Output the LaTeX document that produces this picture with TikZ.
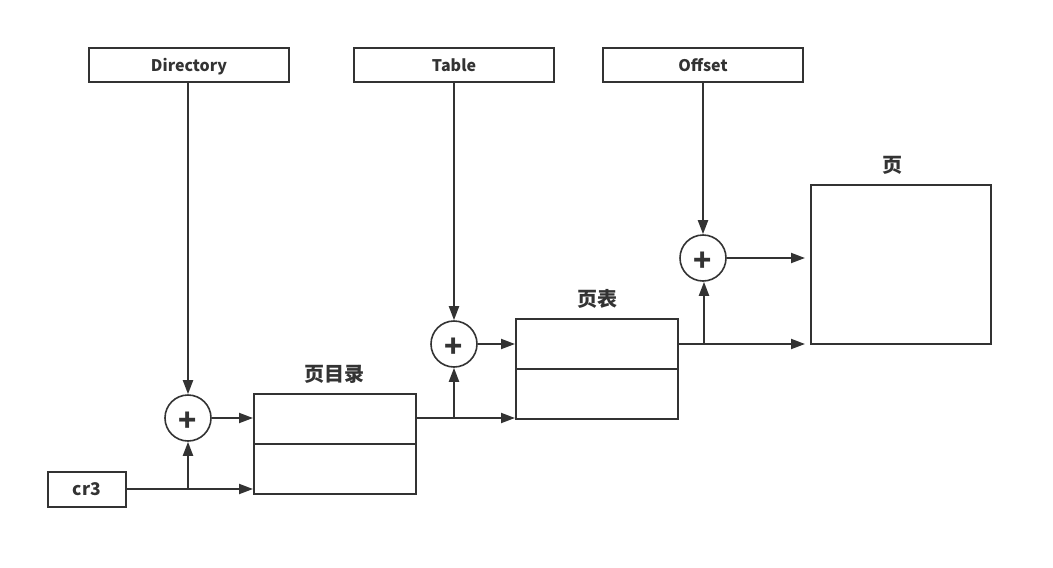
\documentclass[tikz,border=0pt]{standalone}
\usepackage{fontspec}
\setmainfont{Noto Sans CJK SC}
\usetikzlibrary{arrows.meta}
\definecolor{ink}{HTML}{333333}
\begin{document}
\begin{tikzpicture}[x=1pt,y=-1pt,
  line width=2pt, draw=ink, text=ink,
  field/.style={draw=ink, minimum width=200pt, minimum height=34pt, inner sep=0pt, text depth=0pt, font=\bfseries\fontsize{16}{18}\selectfont},
  adder/.style={draw=ink, circle, minimum size=46pt, inner sep=0pt, line width=1.6pt, text depth=0pt, font=\bfseries\fontsize{30}{30}\selectfont},
  tablebox/.style={draw=ink, minimum width=162pt, minimum height=100pt, inner sep=0pt},
  caption/.style={font=\bfseries\fontsize{20}{22}\selectfont, inner sep=0pt},
  conn/.style={draw=ink, -{Triangle[length=14pt,width=10pt]}},
  wire/.style={draw=ink}
]
\useasboundingbox (0,0) rectangle (1053,568);
% address fields
\node[field] (dir) at (189,65) {Directory};
\node[field] (tab) at (454,65) {Table};
\node[field] (off) at (703,65) {Offset};
% cr3
\node[draw=ink, minimum width=78pt, minimum height=35pt, inner sep=0pt, text depth=0pt, font=\bfseries\fontsize{17.5}{19}\selectfont] (cr) at (87,489) {cr3};
% adders
\node[adder] (a1) at (188,418) {\raisebox{-8pt}{+}};
\node[adder] (a2) at (454,344) {\raisebox{-8pt}{+}};
\node[adder] (a3) at (703,258) {\raisebox{-8pt}{+}};
% tables
\node[tablebox] (pd) at (335,444) {};
\draw[wire] (pd.west) -- (pd.east);
\node[caption] (pdl) at (334,374) {页目录};
\node[tablebox] (pt) at (597,369) {};
\draw[wire] (pt.west) -- (pt.east);
\node[caption] (ptl) at (597,299) {页表};
\node[draw=ink, minimum width=180pt, minimum height=159pt, inner sep=0pt] (pg) at (901,264.5) {};
\node[caption] (pgl) at (892,165) {页};
% junction coordinates
\coordinate (j1) at (188,489);
\coordinate (j2) at (454,418);
\coordinate (j3) at (704,344);
% connectors
\draw[conn] (dir.south -| a1) -- (a1.north);
\draw[wire] (cr.east |- j1) -- (j1);
\draw[conn] (j1) -- (pd.west |- j1);
\draw[conn] (j1) -- (a1.south);
\draw[conn] (a1.east) -- (pd.west |- a1);
\draw[wire] (pd.east |- j2) -- (j2);
\draw[conn] (j2) -- (pt.west |- j2);
\draw[conn] (j2) -- (a2.south);
\draw[conn] (tab.south) -- (a2.north);
\draw[conn] (a2.east) -- (pt.west |- a2);
\draw[wire] (pt.east |- j3) -- (j3);
\draw[conn, shorten >=5pt] (j3) -- (pg.west |- j3);
\draw[conn] (j3) -- (j3 |- a3.south);
\draw[conn] (off.south) -- (a3.north);
\draw[conn, shorten >=5pt] (a3.east) -- (pg.west |- a3);
\end{tikzpicture}
\end{document}
